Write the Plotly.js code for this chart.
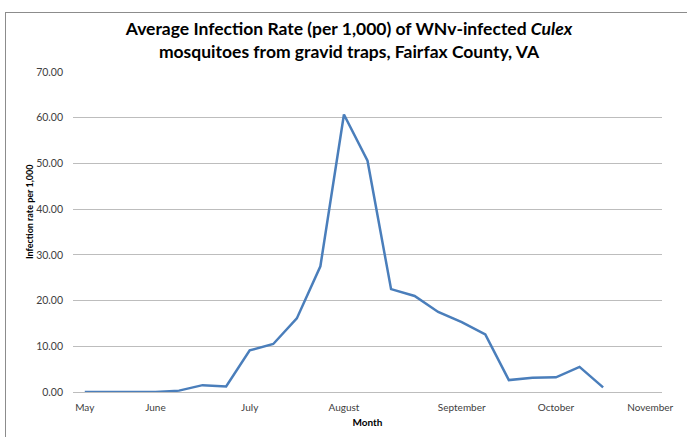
<!DOCTYPE html>
<html>
<head>
<meta charset="utf-8">
<script src="https://cdn.plot.ly/plotly-3.0.1.min.js"></script>
<style>
  html, body { margin: 0; padding: 0; background: #ffffff; }
  #frame {
    position: absolute; left: 5px; top: 12px; width: 720px; height: 460px;
    border: 1px solid #8c8c8c; box-sizing: border-box; pointer-events: none; z-index: 2;
  }
  #chart { position: absolute; left: 0; top: 0; width: 687px; height: 437px; }
</style>
</head>
<body>
<div id="chart"></div>
<div id="frame"></div>
<script>
// Weekly sampling periods from May through early November
const weekIndex = [0, 1, 2, 3, 4, 5, 6, 7, 8, 9, 10, 11, 12, 13, 14, 15, 16, 17, 18, 19, 20, 21, 22];

// Average infection rate per 1,000 mosquitoes for each week
const infectionRate = [0, 0, 0, 0, 0.3, 1.5, 1.2, 9.1, 10.5, 16.1, 27.5, 60.7, 50.6,
                       22.5, 21.0, 17.5, 15.3, 12.6, 2.6, 3.1, 3.2, 5.5, 1.0];

// Month labels placed at the first week of each month
const monthTickWeeks = [0, 3, 7, 11, 16, 20, 24];
const monthLabels = ['May', 'June', 'July', 'August', 'September', 'October', 'November'];

const yTicks = [0, 10, 20, 30, 40, 50, 60, 70];
const yTickText = yTicks.map(v => v.toFixed(2));

const FONT = 'Lato, "Open Sans", sans-serif';
const GRID = '#bdbdbd';

const trace = {
  x: weekIndex,
  y: infectionRate,
  type: 'scatter',
  mode: 'lines',
  line: { color: '#4a7ebb', width: 2.5 },
  hoverinfo: 'skip'
};

const layout = {
  width: 687,
  height: 437,
  margin: { l: 73, r: 25, t: 72, b: 45 },
  paper_bgcolor: 'rgba(0,0,0,0)',
  plot_bgcolor: '#ffffff',
  showlegend: false,
  title: {
    text: 'Average Infection Rate (per 1,000) of WNv-infected <i>Culex</i><br>mosquitoes from gravid traps, Fairfax County, VA',
    font: { family: FONT, size: 17.5, color: '#000000', weight: 'bold' },
    x: 0.508, xanchor: 'center', xref: 'container',
    y: 0.919, yanchor: 'middle', yref: 'container'
  },
  xaxis: {
    range: [-0.5, 24.5],
    tickmode: 'array',
    tickvals: monthTickWeeks,
    ticktext: monthLabels,
    showgrid: false,
    zeroline: false,
    showline: true,
    linecolor: GRID,
    linewidth: 1,
    ticks: '',
    ticklabelstandoff: 6,
    tickfont: { family: FONT, size: 10, color: '#404040' },
    title: {
      text: '<b>Month</b>',
      font: { family: FONT, size: 10, color: '#000000' },
      standoff: 6
    }
  },
  yaxis: {
    range: [0, 70],
    tickmode: 'array',
    tickvals: yTicks,
    ticktext: yTickText,
    showgrid: true,
    gridcolor: GRID,
    gridwidth: 1,
    zeroline: false,
    showline: false,
    ticks: '',
    ticklabelstandoff: 9,
    tickfont: { family: FONT, size: 10.5, color: '#404040' }
  },
  annotations: [{
    text: '<b>Infection rate per 1,000</b>',
    textangle: -90,
    xref: 'paper', yref: 'paper',
    x: (29 - 73) / 589, y: (392 - 212) / 320,
    xanchor: 'center', yanchor: 'middle',
    showarrow: false,
    font: { family: FONT, size: 9, color: '#000000' }
  }]
};

Plotly.newPlot('chart', [trace], layout, { staticPlot: true, displayModeBar: false });
</script>
</body>
</html>
